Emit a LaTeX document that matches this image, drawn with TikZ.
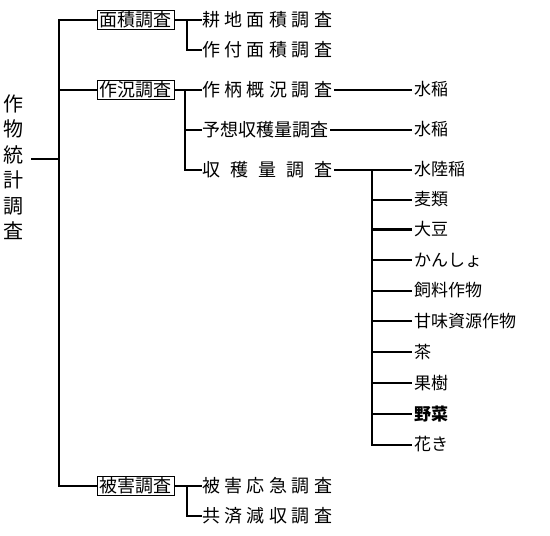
\documentclass[tikz,border=0pt]{standalone}
\usepackage{fontspec}
\setmainfont{Noto Sans CJK JP}
\newcommand\gk[1]{\kern#1pt}
\begin{document}
\begin{tikzpicture}[x=1pt,y=-1pt,
  ln/.style={line width=2pt},
  box/.style={draw,line width=1pt,minimum width=77pt,minimum height=19pt,inner sep=0pt,font=\fontsize{18}{18}\selectfont},
  lab/.style={anchor=west,inner sep=0pt,font=\fontsize{18}{18}\selectfont},
  rlab/.style={anchor=west,inner sep=0pt,font=\fontsize{17}{17}\selectfont},
  rootlab/.style={align=center,inner sep=0pt,font=\fontsize{20}{25.5}\selectfont}]
\useasboundingbox (0,0) rectangle (550,536);
\node[rootlab] (root) at (13,167) {作\\物\\統\\計\\調\\査};
\coordinate (rootR) at (31,159);
\coordinate (tr) at (59,159);
\coordinate (trtop) at (59,19);
% level 1 boxes
\node[box] (area) at (135.5,19.5) {面積調査};
\node[box] (crop) at (135.5,89.5) {作況調査};
\node[box] (dmg) at (135.5,486) {被害調査};
\draw[ln] (rootR) -- (tr);
\draw[ln] (area.west) -| (trtop) -- (tr |- dmg.west) -- (dmg.west);
\draw[ln] (crop.west) -- (crop.west -| tr);
% area children
\node[lab] (a1) at (202,19.5) {耕\gk{4.4}地\gk{4.4}面\gk{4.4}積\gk{4.4}調\gk{4.4}査};
\node[lab] (a2) at (202,49.5) {作\gk{4.4}付\gk{4.4}面\gk{4.4}積\gk{4.4}調\gk{4.4}査};
\coordinate (aj) at (187,19.5);
\draw[ln] (area.east) -- (a1.west);
\draw[ln] (aj) |- (a2.west);
% crop children
\node[lab] (c1) at (202,89.5) {作\gk{4.4}柄\gk{4.4}概\gk{4.4}況\gk{4.4}調\gk{4.4}査};
\node[lab] (c2) at (202,129.5) {予想収穫量調査};
\node[lab] (c3) at (202,169.5) {収\gk{10}穫\gk{10}量\gk{10}調\gk{10}査};
\coordinate (cj) at (185,89.5);
\draw[ln] (crop.east) -- (c1.west);
\draw[ln] (cj) |- (c2.west);
\draw[ln] (cj) |- (c3.west);
\node[rlab] (r1) at (414,89.5) {水稲};
\node[rlab] (r2) at (414,129.5) {水稲};
\draw[ln] ([xshift=2pt]c1.east) -- ([xshift=-2pt]r1.west);
\draw[ln] ([xshift=2pt]c2.east) -- ([xshift=-2pt]r2.west);
% harvest items
\node[rlab] (h1) at (414,169.5) {水陸稲};
\node[rlab] (h2) at (414,199.5) {麦類};
\node[rlab] (h3) at (414,229.5) {大豆};
\node[rlab] (h4) at (414,260) {かんしょ};
\node[rlab] (h5) at (414,290.5) {飼料作物};
\node[rlab] (h6) at (414,321) {甘味資源作物};
\node[rlab] (h7) at (414,352) {茶};
\node[rlab] (h8) at (414,383) {果樹};
\node[rlab,font=\fontsize{17}{17}\selectfont\bfseries] (h9) at (414,414) {野菜};
\node[rlab] (h10) at (414,444.5) {花き};
\coordinate (hj) at (372,169.5);
\draw[ln] ([xshift=2pt]c3.east) -- ([xshift=-2pt]h1.west);
\foreach \i in {2,4,5,6,7,8,9,10}{\draw[ln] (hj) |- ([xshift=-2pt]h\i.west);}
\draw[line width=2.6pt] (hj |- h3.west) -- ([xshift=-2pt]h3.west);
% damage children
\node[lab] (d1) at (202,486) {被\gk{4.4}害\gk{4.4}応\gk{4.4}急\gk{4.4}調\gk{4.4}査};
\node[lab] (d2) at (202,516) {共\gk{4.4}済\gk{4.4}減\gk{4.4}収\gk{4.4}調\gk{4.4}査};
\coordinate (dj) at (187,486);
\draw[ln] (dmg.east) -- (d1.west);
\draw[ln] (dj) |- (d2.west);
\end{tikzpicture}
\end{document}
